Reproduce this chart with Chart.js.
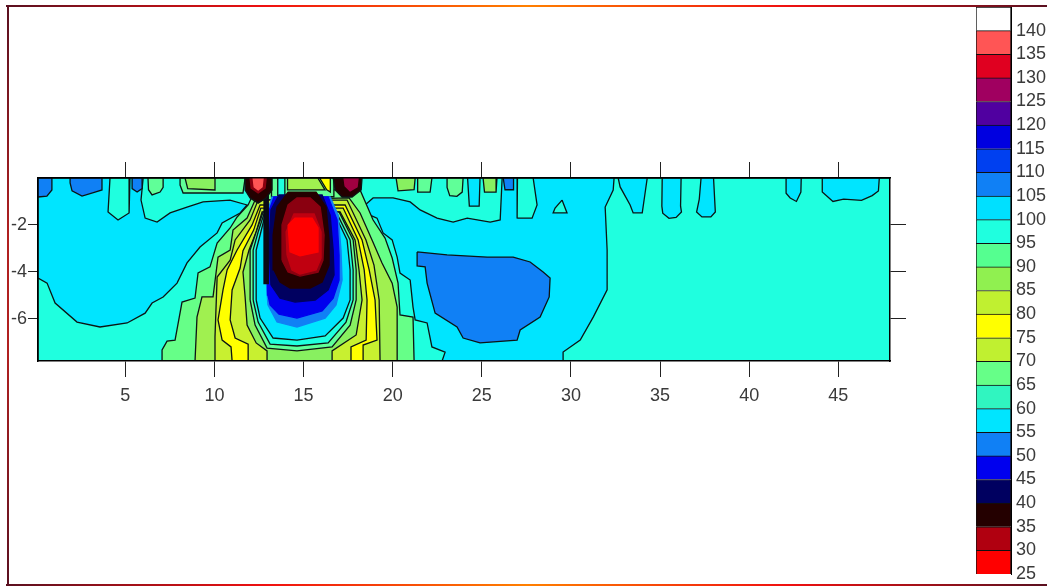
<!DOCTYPE html>
<html><head><meta charset="utf-8">
<style>
html,body{margin:0;padding:0;background:#fff;width:1047px;height:586px;overflow:hidden}
canvas{filter:blur(0.45px)}
#main{position:absolute;left:0;top:0}
#bar{position:absolute;left:960px;top:0}
.f{position:absolute}
</style>
<script src="https://cdn.jsdelivr.net/npm/chart.js@4/dist/chart.umd.min.js"></script>
</head><body>
<canvas id="main" width="1047" height="586"></canvas>
<canvas id="bar" width="87" height="586"></canvas>
<div class="f" style="left:6px;top:5px;width:1041px;height:2px;background:linear-gradient(90deg,#5a1020,#f01010 25%,#ff8000 50%,#f01010 75%,#5a1020)"></div>
<div class="f" style="left:7px;top:5px;width:2px;height:581px;background:linear-gradient(180deg,#5a1020,#b02020 40%,#b02020 60%,#5a1020)"></div>
<div class="f" style="left:6px;top:584px;width:1041px;height:2px;background:linear-gradient(90deg,#5a1020,#f01010 25%,#ff8000 50%,#f01010 75%,#5a1020)"></div>
<script>
const xTicks=[5,10,15,20,25,30,35,40,45];
const yTicks=[-2,-4,-6];
const levelTicks=[25,30,35,40,45,50,55,60,65,70,75,80,85,90,95,100,105,110,115,120,125,130,135,140];
const bandColors=['#ff0000','#b00010','#240000','#000060','#0000ee','#1080f5','#00e5ff','#30f5c0','#66ff88','#c0f030','#ffff00','#c0f030','#90f050','#55ff90','#1fffdf','#00e0ff','#1080f5','#0040f0','#0000e0','#5000a0','#a00060','#e00020','#ff5555','#ffffff'];

// contour regions: [distance, depth]
const background=[[0.1,0],[47.9,0],[47.9,7.8],[0.1,7.8]];
const leftCyan=[[0.1,0],[0.1,4.26],[0.61,4.48],[1.06,5.33],[2.29,6.14],[3.58,6.35],[5.1,6.18],[6.11,5.76],[6.5,5.33],[7.12,5.07],[7.9,4.48],[8.46,3.62],[9.19,2.94],[10.15,2.34],[10.43,1.92],[11.44,1.49],[11.83,1.15],[10.87,0.94],[9.36,1.02],[8.46,1.24],[7.51,1.49],[6.78,1.88],[6.11,1.71],[5.88,0.94],[6.0,0],[5.26,0],[5.21,1.49],[4.59,1.79],[4.03,1.45],[4.14,0]];
const rightCyan=[[22.77,7.8],[22.94,7.42],[22.2,7.2],[21.93,6.18],[21.26,6.05],[21.14,5.5],[20.98,4.35],[20.41,4.05],[20.25,3.37],[19.97,2.64],[19.46,2.34],[19.12,1.71],[18.45,1.49],[18.45,1.15],[18.9,0.85],[20.02,0.85],[20.98,1.02],[21.54,1.36],[22.49,1.71],[23.39,1.88],[24.18,1.71],[25.47,1.88],[26.03,1.79],[26.14,0],[27.0,0],[26.98,1.71],[27.82,1.71],[28.1,1.15],[27.88,0],[32.42,0],[32.37,0.51],[31.92,1.24],[32.03,3.07],[32.03,4.77],[31.25,5.93],[30.52,6.91],[29.56,7.42],[29.56,7.8]];
const islet=[[29.5,0.94],[29.78,1.49],[29.0,1.49],[29.11,1.28]];
const deepBlue=[[21.37,3.15],[23.05,3.28],[25.3,3.37],[26.76,3.37],[27.71,3.58],[28.44,4.01],[28.83,4.26],[28.78,5.07],[28.27,5.93],[27.15,6.48],[26.98,6.91],[24.9,7.03],[23.95,6.82],[23.61,6.35],[22.38,5.76],[21.93,4.48],[21.82,3.79],[21.37,3.75]];
const blueA=[[0.1,0],[0.88,0],[0.88,0.51],[0.6,0.77],[0.1,0.81]];
const blueB=[[1.9,0],[3.69,0],[3.69,0.51],[3.3,0.6],[2.57,0.77],[2.01,0.55],[1.9,0.21]];
const blueC=[[5.38,0],[5.94,0],[5.94,0.45],[5.66,0.6],[5.38,0.45]];
const blueD=[[26.2,0],[26.78,0],[26.78,0.5],[26.3,0.5]];
const greenA=[[6.27,0],[7.12,0],[7.12,0.4],[6.95,0.6],[6.5,0.72],[6.3,0.5]];
const greenB=[[8.07,0],[11.72,0],[11.6,0.64],[8.24,0.64],[8.07,0.3]];
const greenC=[[8.35,0],[10.03,0],[10.03,0.51],[8.5,0.45]];
const greenD=[[20.19,0],[21.26,0],[21.2,0.5],[20.3,0.55]];
const greenE=[[21.4,0],[22.2,0],[22.1,0.6],[21.4,0.6]];
const greenF=[[23.05,0],[23.95,0],[23.9,0.6],[23.6,0.78],[23.2,0.75],[23.05,0.4]];
const greenG=[[25.07,0],[25.85,0],[25.8,0.6],[25.15,0.6]];
const cyanTongue=[[24.2,0],[24.9,0],[24.85,1.2],[24.3,1.2]];
const tongue1=[[32.65,0],[32.76,0.38],[33.32,1.15],[33.49,1.49],[34.0,1.49],[34.16,0.64],[34.28,0]];
const tongue2=[[35.12,0],[36.18,0],[36.15,1.2],[36.2,1.45],[35.9,1.68],[35.5,1.72],[35.15,1.5],[35.1,1.2]];
const tongue3=[[37.3,0],[38.0,0],[38.1,1.45],[37.85,1.66],[37.35,1.66],[37.05,1.45],[37.2,0.9]];
const tongue4=[[42.07,0],[42.92,0],[42.9,0.6],[42.65,1.0],[42.3,0.85],[42.07,0.65]];
const tongue5=[[44.1,0],[47.3,0],[47.25,0.55],[46.9,0.75],[46.3,0.95],[45.3,0.9],[44.7,1.0],[44.1,0.6]];
const fan1=[[7.06,7.8],[7.06,7.33],[7.34,6.95],[7.79,6.91],[8.18,5.29],[8.91,5.12],[9.08,4.05],[9.75,3.79],[10.15,2.77],[10.88,2.13],[11.27,1.66],[11.89,1.15],[12.28,0.51],[18.17,0.51],[18.9,1.79],[19.57,2.56],[19.97,3.41],[20.3,4.48],[20.41,5.84],[21.14,5.93],[21.2,7.8]];
const fan2=[[8.91,7.8],[9.02,5.93],[9.3,5.07],[9.92,5.07],[10.2,3.37],[10.88,3.07],[11.04,2.22],[11.83,1.71],[12.28,0.94],[17.55,0.85],[18.17,1.49],[18.84,2.64],[19.4,3.62],[19.97,4.48],[20.25,5.5],[20.25,7.8]];
const fan3=[[9.98,7.8],[10.03,6.78],[10.15,4.22],[10.88,3.5],[11.16,2.64],[12.0,1.79],[12.45,0.94],[17.44,0.94],[18.5,2.64],[18.95,3.71],[19.24,5.2],[19.29,7.8]];
const fan4=[[10.99,7.8],[10.93,7.2],[10.43,6.91],[10.2,6.05],[10.48,4.77],[10.71,3.92],[11.27,3.07],[12.11,2.0],[12.56,1.15],[17.33,1.15],[18.28,2.64],[18.68,3.92],[19.01,5.2],[19.12,6.91],[18.34,7.12],[18.34,7.8]];
const fan5=[[11.89,7.8],[11.89,7.08],[11.16,6.82],[10.88,6.05],[10.99,4.77],[11.44,3.84],[11.6,3.1],[12.2,2.22],[12.6,1.28],[17.22,1.28],[18.06,2.64],[18.4,3.92],[18.56,5.2],[18.51,6.91],[17.66,7.2],[17.66,7.8]];
const fan6=[[12.95,7.8],[12.95,7.37],[12.34,7.03],[11.83,6.27],[11.72,5.07],[11.6,4.01],[11.94,3.07],[12.34,2.3],[12.67,1.45],[17.05,1.45],[17.89,2.64],[18.11,3.92],[18.28,5.2],[17.95,6.69],[16.6,7.37],[16.6,7.8]];
const ring7=[[12.0,5.2],[12.0,3.07],[12.34,2.3],[12.73,1.45],[16.99,1.45],[17.78,2.64],[17.95,3.92],[17.95,5.2],[17.61,6.27],[16.6,7.2],[14.63,7.37],[12.95,7.25],[12.28,6.27]];
const ring8=[[12.17,5.2],[12.17,3.07],[12.45,2.3],[12.78,1.53],[16.88,1.53],[17.61,2.64],[17.78,3.92],[17.78,5.2],[17.38,6.14],[16.38,7.03],[14.63,7.16],[13.12,7.08],[12.45,6.14]];
const ring9=[[12.34,5.2],[12.34,3.07],[12.56,2.43],[12.84,1.58],[16.77,1.58],[17.44,2.64],[17.61,3.92],[17.61,5.2],[17.22,5.97],[16.21,6.73],[14.63,6.91],[13.29,6.82],[12.56,5.97]];
const ring10=[[13.0,5.41],[12.9,4.35],[12.9,2.64],[13.0,1.36],[13.23,0.81],[16.49,0.81],[16.94,1.58],[17.1,3.07],[17.16,4.35],[16.82,5.41],[16.21,5.97],[14.63,6.35],[13.51,6.14]];
const ring11=[[13.0,4.99],[12.95,3.07],[13.0,1.58],[13.34,0.81],[16.38,0.81],[16.88,1.79],[16.99,3.28],[16.99,4.35],[16.66,5.12],[16.04,5.67],[14.63,5.97],[13.62,5.8],[13.12,5.41]];
const ring12=[[13.17,4.56],[13.06,2.86],[13.17,1.36],[13.62,0.72],[16.04,0.72],[16.49,1.58],[16.66,3.07],[16.71,4.13],[16.38,4.77],[15.65,5.2],[14.52,5.29],[13.68,5.12]];
const ring13=[[13.34,3.92],[13.29,2.43],[13.51,1.24],[14.13,0.6],[15.7,0.6],[16.26,1.24],[16.43,2.64],[16.43,3.71],[16.04,4.43],[15.37,4.69],[14.24,4.69],[13.68,4.43]];
const ring14=[[13.79,3.5],[13.79,2.0],[14.13,1.15],[14.63,0.85],[15.37,0.85],[15.93,1.24],[16.15,2.43],[16.09,3.5],[15.81,4.01],[14.8,4.18],[14.13,4.01]];
const ring14b=[[14.07,3.28],[14.02,2.3],[14.46,1.53],[15.59,1.53],[15.98,2.3],[15.98,3.41],[15.7,3.92],[14.8,4.09],[14.35,3.92]];
const ring15=[[14.13,2.0],[14.52,1.71],[15.48,1.71],[15.81,2.13],[15.81,3.15],[14.8,3.32],[14.24,3.15]];
const capBand=[[13.2,0],[16.7,0],[16.7,0.8],[13.2,0.8]];
const capStrip=[[13.55,0],[13.95,0],[13.95,0.75],[13.55,0.75]];
const capGreen=[[14.1,0],[15.8,0],[16.2,0.51],[14.1,0.51]];
const capYellow=[[15.9,0],[16.5,0],[16.5,0.6],[16.3,0.5]];
const seam=[[12.78,0],[13.02,0],[13.02,4.5],[12.82,4.5]];
const knotL=[[11.72,0],[13.23,0],[13.23,0.51],[12.9,0.85],[12.45,1.07],[12.0,0.85],[11.72,0.51]];
const knotLmid=[[12.0,0],[12.9,0],[12.84,0.43],[12.45,0.64],[12.06,0.43]];
const knotLcore=[[12.17,0],[12.73,0],[12.67,0.38],[12.45,0.51],[12.23,0.38]];
const knotR=[[16.66,0],[18.28,0],[18.23,0.51],[17.72,0.81],[17.16,0.81],[16.77,0.51]];
const knotRcore=[[17.27,0],[18.06,0],[18.0,0.38],[17.61,0.55],[17.33,0.34]];

const C={turq:'#1fffdf',cyan:'#00e5ff',blue:'#1080f5',g1:'#60ff98',g2:'#88f060',g3:'#a0f050',lime:'#c8f030',yel:'#ffff00',navy:'#000060',b2:'#0000ee',dk:'#240000',dr:'#8a0010',mr:'#c00010',red:'#ff0000',pink:'#ff5555',cr:'#a00040'};
const layers=[
 [background,C.turq],[leftCyan,C.cyan],[rightCyan,C.cyan],[islet,C.turq],[deepBlue,C.blue],
 [blueA,C.blue],[blueB,C.blue],[blueC,C.blue],[blueD,C.blue],
 [greenA,C.g1],[greenB,C.g1],[greenC,C.g2],[greenD,C.g2],[greenE,C.g1],[greenF,C.g1],[greenG,C.g2],
 [cyanTongue,C.cyan],[tongue1,C.cyan],[tongue2,C.cyan],[tongue3,C.cyan],[tongue4,C.cyan],[tongue5,C.cyan],
 [fan1,'#66ff88'],[fan2,C.g3],[fan3,C.lime],[fan4,C.yel],[fan5,C.lime],[fan6,C.g2],
 [ring7,C.g1],[ring8,C.turq],[ring9,C.cyan],
 [capBand,C.g1],[capStrip,C.turq],[capGreen,C.g3],[capYellow,C.yel],
 [ring10,C.blue,1],[ring11,C.b2,1],[ring12,C.navy,1],[ring13,C.dk,1],[ring14,C.dr,1],[ring14b,C.mr,1],[ring15,C.red,1],
 [seam,'#0a0a14',1],
 [knotL,C.dk],[knotLmid,C.dr,1],[knotLcore,C.pink,1],[knotR,C.dk],[knotRcore,C.cr,1]
];

const n=layers.length;
const datasets=layers.map(([poly,color,soft],i)=>({
  data:[...poly,poly[0]].map(([x,d])=>({x,y:-d})),
  showLine:true,fill:'shape',backgroundColor:color,borderColor:soft?color:'#0c1414',borderWidth:1.3,
  pointRadius:0,tension:0,order:n-i,xAxisID:'x',yAxisID:'y'
}));
const ink='#3a3a3a', axisFont={family:'"Liberation Sans",Arial,sans-serif',size:18};
const frame=(len)=>({
  grid:{display:true,drawOnChartArea:false,drawTicks:true,tickLength:len,tickColor:'#222',tickWidth:1,z:1},
  border:{display:true,color:'#000',width:1.5,z:1}
});
new Chart(document.getElementById('main'),{
  type:'scatter',
  data:{datasets},
  options:{
    responsive:false,animation:false,events:[],
    layout:{padding:0},
    plugins:{legend:{display:false},tooltip:{enabled:false},title:{display:false}},
    scales:{
      x:{type:'linear',position:'bottom',min:0.1,max:47.9,...frame(16),
         afterBuildTicks:s=>{s.ticks=xTicks.map(v=>({value:v}))},
         afterFit:s=>{s.height=225},
         ticks:{color:ink,font:axisFont,padding:8,maxRotation:0,autoSkip:false}},
      xTop:{type:'linear',position:'top',min:0.1,max:47.9,...frame(16),
         afterBuildTicks:s=>{s.ticks=xTicks.map(v=>({value:v}))},
         afterFit:s=>{s.height=178},
         ticks:{callback:()=>'',autoSkip:false,maxRotation:0}},
      y:{type:'linear',position:'left',min:-7.8,max:0,...frame(10),
         afterBuildTicks:s=>{s.ticks=yTicks.map(v=>({value:v}))},
         afterFit:s=>{s.width=38},
         ticks:{color:ink,font:axisFont,padding:1,autoSkip:false}},
      yRight:{type:'linear',position:'right',min:-7.8,max:0,...frame(16),
         afterBuildTicks:s=>{s.ticks=yTicks.map(v=>({value:v}))},
         afterFit:s=>{s.width=157},
         ticks:{callback:()=>'',autoSkip:false}}
    }
  }
});
new Chart(document.getElementById('bar'),{
  type:'bar',
  data:{labels:['level'],datasets:levelTicks.map((v,i)=>({
    data:[[v,v+5]],backgroundColor:bandColors[i],borderColor:'#101010',borderWidth:1,
    barPercentage:1,categoryPercentage:1,grouped:false
  }))},
  options:{
    responsive:false,animation:false,events:[],
    layout:{padding:{left:16,top:7,bottom:12,right:0}},
    plugins:{legend:{display:false},tooltip:{enabled:false}},
    scales:{
      x:{display:false,stacked:true},
      y:{position:'right',min:25,max:145,
         afterBuildTicks:s=>{s.ticks=levelTicks.map(v=>({value:v}))},
         afterFit:s=>{s.width=36;s.paddingTop=0;s.paddingBottom=0},
         grid:{display:false,drawTicks:false},
         border:{display:true,color:'#000',width:1},
         ticks:{color:ink,font:axisFont,padding:5,autoSkip:false}}
    }
  }
});
</script>
</body></html>
